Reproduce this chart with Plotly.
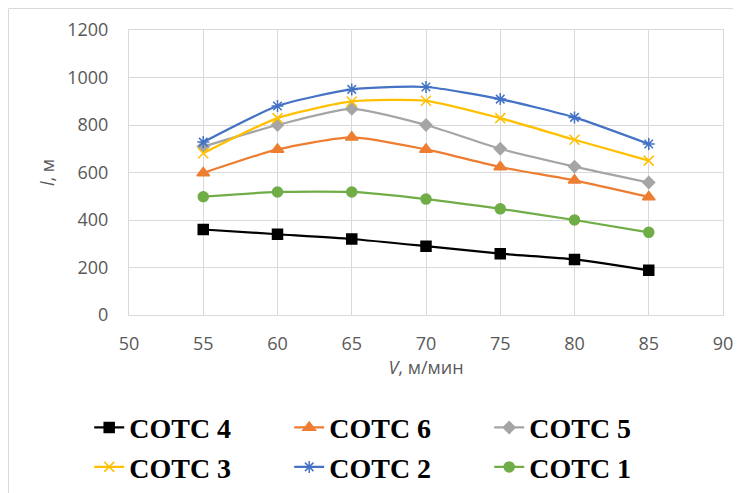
import plotly.graph_objects as go

V = [55, 60, 65, 70, 75, 80, 85]
names = ["СОТС 4", "СОТС 6", "СОТС 5", "СОТС 3", "СОТС 2", "СОТС 1"]
sots4 = [360, 340, 320, 290, 258, 234, 188]
sots6 = [598, 697, 748, 697, 623, 567, 497]
sots5 = [709, 800, 868, 800, 700, 625, 558]
sots3 = [681, 829, 899, 902, 829, 738, 650]
sots2 = [728, 880, 950, 960, 909, 832, 720]
sots1 = [498, 518, 518, 488, 447, 400, 348]

series = [sots4, sots6, sots5, sots3, sots2, sots1]
colors = ["#000000", "#ED7D31", "#A5A5A5", "#FFC000", "#4472C4", "#70AD47"]
symbols = ["square", "triangle-up", "diamond", "x-thin-open", "asterisk-open", "circle"]
msizes = [10, 11, 9, 10, 10, 10]

fig = go.Figure()
for nm, ys, c, s, ms in zip(names, series, colors, symbols, msizes):
    fig.add_trace(go.Scatter(
        x=V, y=ys, name=nm, mode="lines+markers",
        line=dict(color=c, width=2.25, shape="spline", smoothing=0.6),
        marker=dict(symbol=s, size=ms, color=c, line=dict(color=c, width=1.5)),
    ))

# page body has an 8px margin, so the figure is drawn 8px smaller and offset
W, H = 733, 485
L, T, R, B = 121, 22, 18, 178
pw, ph = W - L - R, H - T - B

axfont = dict(family="Open Sans", size=18, color="#595959")
fig.update_layout(
    width=W, height=H,
    margin=dict(l=L, r=R, t=T, b=B, autoexpand=False),
    paper_bgcolor="white", plot_bgcolor="white",
    font=axfont,
    xaxis=dict(range=[50, 90], dtick=5, tick0=50, showgrid=True, gridcolor="#D9D9D9",
               showline=True, linecolor="#D9D9D9", linewidth=1, mirror=True, zeroline=False,
               tickfont=axfont, ticklabelstandoff=12,
               title=dict(text="<i>V</i>, м/мин", font=axfont, standoff=2)),
    yaxis=dict(range=[0, 1200], dtick=200, showgrid=True, gridcolor="#D9D9D9",
               showline=True, linecolor="#D9D9D9", linewidth=1, mirror=True, zeroline=False,
               tickfont=axfont, ticklabelstandoff=16,
               title=dict(text="<i>l</i>, м", font=axfont, standoff=7)),
    legend=dict(orientation="h", x=-0.067, y=-0.308, xanchor="left", yanchor="top",
                font=dict(family="Liberation Serif", size=28, color="#000000", weight="bold"),
                entrywidth=155, entrywidthmode="pixels", tracegroupgap=0,
                bgcolor="rgba(0,0,0,0)"),
    shapes=[dict(type="rect", xref="paper", yref="paper",
                 x0=(0.5 - L) / pw, x1=(745 - L) / pw,
                 y0=(T + ph - 495) / ph, y1=(T + ph - 0.5) / ph,
                 line=dict(color="#D9D9D9", width=1), fillcolor="rgba(0,0,0,0)", layer="below")],
)
fig.write_html("out.html")
